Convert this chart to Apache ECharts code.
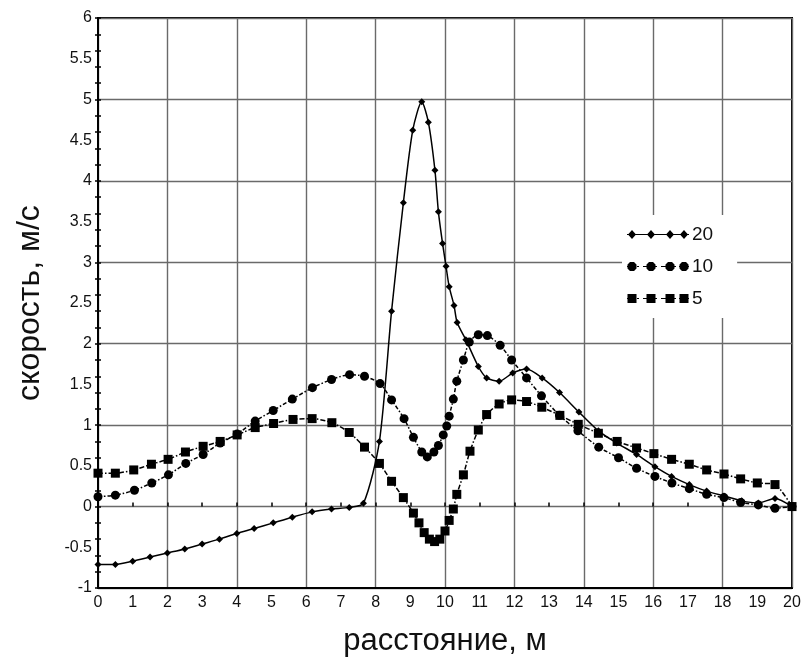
<!DOCTYPE html>
<html lang="ru">
<head>
    <meta charset="UTF-8">
    <title>скорость</title>
    <script src="https://cdn.jsdelivr.net/npm/echarts@6/dist/echarts.min.js"></script>
    <style>
        body { margin: 0; background: #fff; }
        #main { width: 804px; height: 668px; }
    </style>
</head>
<body>
<div id="main"></div>
<script>
    // данные
    const names = ['20', '10', '5'];

    const x20 = [0, 0.5, 1, 1.5, 2, 2.5, 3, 3.5, 4, 4.5, 5.05, 5.6, 6.17, 6.73, 7.24, 7.65, 8.11, 8.46, 8.8, 9.07,
        9.33, 9.52, 9.71, 9.81, 9.93, 10.03, 10.12, 10.26, 10.35, 10.6, 10.96, 11.2, 11.56, 11.95, 12.35, 12.8,
        13.3, 13.86, 14.42, 14.95, 15.52, 16.05, 16.53, 17.04, 17.54, 18.04, 18.55, 19.03, 19.51, 20];
    const y20 = [-0.71, -0.71, -0.67, -0.62, -0.57, -0.52, -0.46, -0.40, -0.33, -0.27, -0.20, -0.13, -0.065, -0.03, -0.01, 0.04, 0.80, 2.40, 3.73, 4.62,
        4.97, 4.72, 4.13, 3.62, 3.23, 2.95, 2.70, 2.47, 2.26, 2.05, 1.72, 1.58, 1.54, 1.64, 1.69, 1.58,
        1.40, 1.16, 0.93, 0.78, 0.64, 0.49, 0.37, 0.27, 0.19, 0.13, 0.07, 0.045, 0.10, 0];

    const x10 = [0, 0.5, 1.05, 1.55, 2.03, 2.53, 3.03, 3.52, 4.01, 4.53, 5.05, 5.6, 6.18, 6.73, 7.25, 7.68, 8.13, 8.46, 8.82, 9.09,
        9.33, 9.49, 9.68, 9.81, 9.95, 10.05, 10.12, 10.24, 10.34, 10.53, 10.7, 10.96, 11.22, 11.59, 11.92, 12.35, 12.78,
        13.3, 13.83, 14.43, 15.0, 15.52, 16.05, 16.54, 17.04, 17.54, 18.04, 18.52, 19.03, 19.51, 20];
    const y10 = [0.12, 0.14, 0.20, 0.29, 0.39, 0.53, 0.64, 0.78, 0.89, 1.05, 1.18, 1.32, 1.46, 1.56, 1.62, 1.60, 1.51, 1.31, 1.08, 0.85,
        0.67, 0.61, 0.67, 0.75, 0.88, 0.99, 1.11, 1.32, 1.54, 1.80, 2.02, 2.11, 2.10, 1.98, 1.80, 1.58, 1.36,
        1.12, 0.93, 0.73, 0.60, 0.47, 0.37, 0.29, 0.22, 0.15, 0.11, 0.05, 0.02, -0.02, 0];

    const x5 = [0, 0.5, 1.03, 1.54, 2.02, 2.52, 3.03, 3.52, 4.01, 4.53, 5.06, 5.62, 6.17, 6.74, 7.24, 7.68, 8.11, 8.46, 8.8, 9.09,
        9.25, 9.4, 9.55, 9.7, 9.85, 10.0, 10.12, 10.24, 10.34, 10.53, 10.72, 10.96, 11.2, 11.56, 11.92, 12.35, 12.79,
        13.31, 13.84, 14.42, 14.96, 15.52, 16.02, 16.53, 17.04, 17.54, 18.04, 18.52, 19.0, 19.51, 20];
    const y5 = [0.41, 0.41, 0.45, 0.52, 0.58, 0.67, 0.74, 0.80, 0.88, 0.97, 1.02, 1.07, 1.08, 1.03, 0.91, 0.73, 0.53, 0.31, 0.11, -0.08,
        -0.20, -0.32, -0.40, -0.43, -0.40, -0.30, -0.17, -0.03, 0.15, 0.39, 0.68, 0.94, 1.13, 1.26, 1.31, 1.29, 1.22,
        1.12, 1.01, 0.90, 0.80, 0.72, 0.65, 0.58, 0.52, 0.45, 0.40, 0.34, 0.29, 0.27, 0];

    const pairs = (xs, ys) => xs.map((x, i) => [x, ys[i]]);

    // значки легенды: линия с четырьмя маркерами
    const marks = [5, 24, 43, 57];
    const bar = 'M0,4.4 L62,4.4 L62,5.6 L0,5.6 Z ';
    const dashBar = 'M0,4.4 L6,4.4 L6,5.6 L0,5.6 Z M10,4.4 L12,4.4 L12,5.6 L10,5.6 Z M16,4.4 L24,4.4 L24,5.6 L16,5.6 Z M28,4.4 L30,4.4 L30,5.6 L28,5.6 Z M34,4.4 L43,4.4 L43,5.6 L34,5.6 Z M47,4.4 L49,4.4 L49,5.6 L47,5.6 Z M52,4.4 L62,4.4 L62,5.6 L52,5.6 Z ';
    const diamond = c => `M${c},0.5 L${c + 4},5 L${c},9.5 L${c - 4},5 Z `;
    const circle = c => `M${c - 2},0.5 L${c + 2},0.5 L${c + 4.5},3 L${c + 4.5},7 L${c + 2},9.5 L${c - 2},9.5 L${c - 4.5},7 L${c - 4.5},3 Z `;
    const square = c => `M${c - 4.5},0.5 L${c + 4.5},0.5 L${c + 4.5},9.5 L${c - 4.5},9.5 Z `;
    const icon20 = 'path://' + bar + marks.map(diamond).join('');
    const icon10 = 'path://' + dashBar + marks.map(circle).join('');
    const icon5 = 'path://' + dashBar + marks.map(square).join('');

    const font = 'Liberation Sans, Arial, sans-serif';
    const gridLine = {show: true, lineStyle: {color: '#6a6a6a', width: 1.4}};

    let myChart = echarts.init(document.getElementById('main'));
    let option = {
        backgroundColor: '#fff',
        animation: false,
        grid: {
            left: 98, right: 12, top: 18, bottom: 80,
            show: true, borderColor: '#000', borderWidth: 2, backgroundColor: 'transparent'
        },
        legend: {
            orient: 'vertical',
            left: 622,
            top: 215,
            padding: [10, 24, 10, 5],
            backgroundColor: '#fff',
            itemWidth: 62,
            itemHeight: 9,
            itemGap: 13,
            textStyle: {fontFamily: font, fontSize: 19, color: '#111', padding: [0, 0, 0, -2]},
            data: [
                {name: names[0], icon: icon20},
                {name: names[1], icon: icon10},
                {name: names[2], icon: icon5}
            ]
        },
        xAxis: [
            {
                type: 'value', min: 0, max: 20, interval: 2, position: 'bottom',
                name: 'расстояние, м', nameLocation: 'middle', nameGap: 38,
                nameTextStyle: {fontFamily: font, fontSize: 31, color: '#111'},
                axisLine: {show: true, onZero: false, lineStyle: {color: '#000', width: 2}},
                axisTick: {show: false},
                axisLabel: {show: false},
                splitLine: gridLine
            },
            {
                type: 'value', min: 0, max: 20, interval: 1, position: 'bottom',
                axisLine: {show: false},
                axisTick: {show: true, inside: true, length: 4, lineStyle: {color: '#000', width: 1.5}},
                axisLabel: {fontFamily: font, fontSize: 16, color: '#111', margin: 7},
                splitLine: {show: false}
            }
        ],
        yAxis: [
            {
                type: 'value', min: -1, max: 6, interval: 1, position: 'left',
                name: 'скорость, м/с', nameLocation: 'middle', nameGap: 52,
                nameTextStyle: {fontFamily: font, fontSize: 32, color: '#111'},
                axisLine: {show: true, onZero: false, lineStyle: {color: '#000', width: 2}},
                axisTick: {show: true, length: 3, lineStyle: {color: '#000', width: 1.5}},
                minorTick: {show: true, splitNumber: 5, length: 3, lineStyle: {color: '#000', width: 1.5}},
                axisLabel: {show: false},
                splitLine: gridLine
            },
            {
                type: 'value', min: -1, max: 6, interval: 0.2, position: 'left',
                axisLine: {show: false},
                axisTick: {show: true, inside: true, length: 3, lineStyle: {color: '#000', width: 1.5}},
                axisLabel: {show: false},
                splitLine: {show: false}
            },
            {
                type: 'value', min: -1, max: 6, interval: 0.5, position: 'left',
                axisLine: {show: false},
                axisTick: {show: false},
                axisLabel: {fontFamily: font, fontSize: 16, color: '#111', margin: 6},
                splitLine: {show: false}
            }
        ],
        series: [
            {
                name: names[0], type: 'line', data: pairs(x20, y20),
                xAxisIndex: 0, yAxisIndex: 0,
                symbol: 'diamond', symbolSize: 7, smooth: 0.25,
                color: '#000',
                lineStyle: {color: '#000', width: 1.5},
                itemStyle: {color: '#000'}
            },
            {
                name: names[1], type: 'line', data: pairs(x10, y10),
                xAxisIndex: 0, yAxisIndex: 0,
                symbol: 'circle', symbolSize: 9, smooth: 0.25,
                color: '#000',
                lineStyle: {color: '#000', width: 1.5, type: [4, 2, 1.5, 2]},
                itemStyle: {color: '#000'}
            },
            {
                name: names[2], type: 'line', data: pairs(x5, y5),
                xAxisIndex: 0, yAxisIndex: 0,
                symbol: 'rect', symbolSize: 9, smooth: 0.25,
                color: '#000',
                lineStyle: {color: '#000', width: 1.5, type: [5, 2, 1.5, 2]},
                itemStyle: {color: '#000'}
            }
        ]
    };
    myChart.setOption(option);
</script>
</body>
</html>
